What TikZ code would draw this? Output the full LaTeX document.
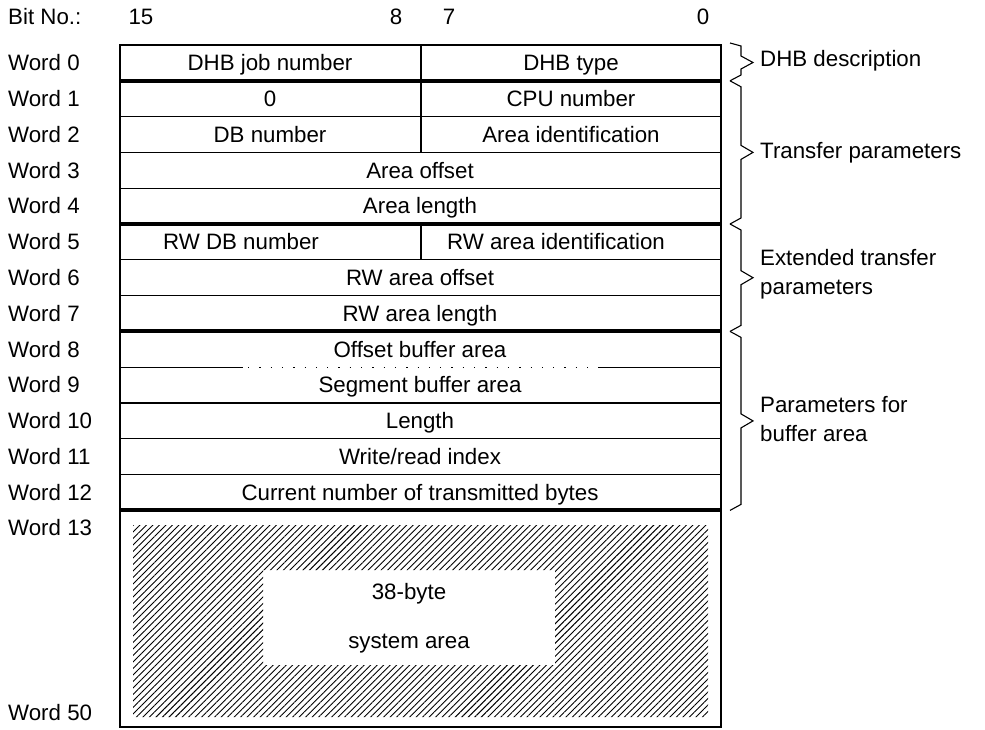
\documentclass[tikz,border=0pt]{standalone}
\usepackage{fontspec}
\setmainfont{Liberation Sans}
\usetikzlibrary{patterns.meta}
\begin{document}
\begin{tikzpicture}[x=1pt,y=-1pt,
  txt/.style={font=\fontsize{22.3}{26}\selectfont, inner sep=0pt},
  cell/.style={txt, anchor=base},
  word/.style={txt, anchor=base west},
  side/.style={txt, anchor=base west, align=left},
  thinrule/.style={line width=1.1pt},
  thickrule/.style={line width=4pt},
  dotrule/.style={line width=1.3pt, dash pattern=on 1.3pt off 10pt},
  bracket/.style={line width=1.1pt, line join=miter},
  hatch/.style={pattern={Lines[angle=45,distance=4.6pt,line width=0.9pt]}, even odd rule}
]
\useasboundingbox (0,0) rectangle (985,730);
\def\top{45}
\def\rh{35.8}
\def\L{120}
\def\R{721}
\def\M{421}

% header with bit numbers
\node[word] (bitno) at (8,24.5) {Bit No.:};
\node[cell] (b15) at (141,24.5) {15};
\node[cell] (b8) at (396,24.5) {8};
\node[cell] (b7) at (449,24.5) {7};
\node[cell] (b0) at (703,24.5) {0};

% word labels
\foreach \k in {0,...,12}
  \node[word] (w\k) at (8,{\top+\rh*(\k+0.5)+7.8}) {Word \k};
\node[word] (w13) at (8,535.5) {Word 13};
\node[word] (w50) at (8,720) {Word 50};

% frame and rules
\draw[thinrule] (\L,\top) rectangle (\R,727);
\foreach \k in {2,3,4,6,7,10,11,12}
  \draw[thinrule] (\L,{\top+\rh*\k}) -- (\R,{\top+\rh*\k});
\foreach \k in {1,5,8,13}
  \draw[thickrule] (\L,{\top+\rh*\k}) -- (\R,{\top+\rh*\k});
% split rule between offset and segment
\draw[thinrule] (\L,{\top+\rh*9}) -- (243,{\top+\rh*9});
\draw[thinrule] (598,{\top+\rh*9}) -- (\R,{\top+\rh*9});
\draw[dotrule] (248,{\top+\rh*9}) -- (594,{\top+\rh*9});
% byte divider
\draw[thinrule] (\M,\top) -- (\M,{\top+\rh*3});
\draw[thinrule] (\M,{\top+\rh*5}) -- (\M,{\top+\rh*6});

% cell texts
\def\yb#1{\top+\rh*(#1+0.5)+7.8}
\node[cell] (c0a) at (270,{\yb{0}}) {DHB job number};
\node[cell] (c0b) at (571,{\yb{0}}) {DHB type};
\node[cell] (c1a) at (270,{\yb{1}}) {0};
\node[cell] (c1b) at (571,{\yb{1}}) {CPU number};
\node[cell] (c2a) at (270,{\yb{2}}) {DB number};
\node[cell] (c2b) at (571,{\yb{2}}) {Area identification};
\node[cell] (c3) at (420,{\yb{3}}) {Area offset};
\node[cell] (c4) at (420,{\yb{4}}) {Area length};
\node[cell] (c5a) at (241,{\yb{5}}) {RW DB number};
\node[cell] (c5b) at (556,{\yb{5}}) {RW area identification};
\node[cell] (c6) at (420,{\yb{6}}) {RW area offset};
\node[cell] (c7) at (420,{\yb{7}}) {RW area length};
\node[cell] (c8) at (420,{\yb{8}}) {Offset buffer area};
\node[cell] (c9) at (420,{\yb{9}}) {Segment buffer area};
\node[cell] (c10) at (420,{\yb{10}}) {Length};
\node[cell] (c11) at (420,{\yb{11}}) {Write/read index};
\node[cell] (c12) at (420,{\yb{12}}) {Current number of transmitted bytes};

% hatched system area
\fill[hatch] (133,525) rectangle (708,717) (263,570) rectangle (555,665);
\node[cell] (sys1) at (409,599) {38-byte};
\node[cell] (sys2) at (409,648) {system area};

% braces
\draw[bracket] (730,43) -- (741,46) -- (741,56) -- (753,62.5) -- (741,69) -- (741,75) -- (730,80.8);
\foreach \a/\b in {80.8/224, 224/331.4, 331.4/510.4}{
  \pgfmathsetmacro\mid{(\a+\b)/2}
  \draw[bracket] (730,\a) -- (741,\a+6) -- (741,\mid-7) -- (753,\mid) -- (741,\mid+7) -- (741,\b-6) -- (730,\b);
}
\node[side] (g1) at (760,67) {DHB description};
\node[side] (g2) at (760,159) {Transfer parameters};
\node[side] (g3a) at (760,265) {Extended transfer};
\node[side] (g3b) at (760,294) {parameters};
\node[side] (g4a) at (760,412) {Parameters for};
\node[side] (g4b) at (760,441) {buffer area};
\end{tikzpicture}
\end{document}
